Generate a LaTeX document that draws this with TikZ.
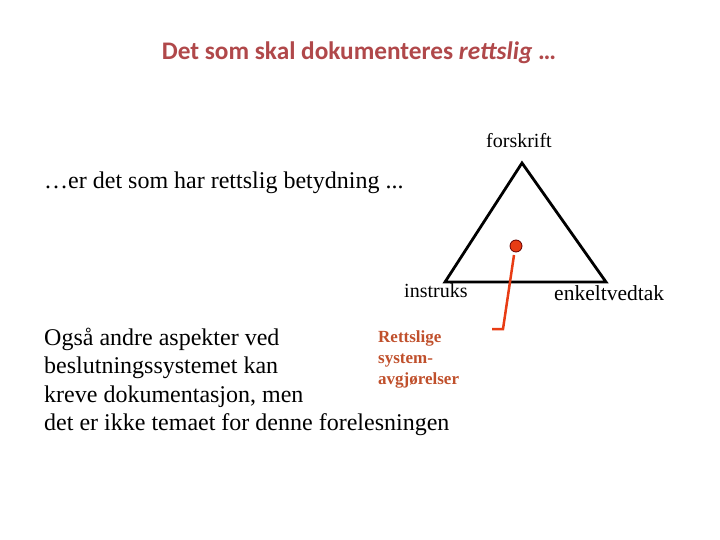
\documentclass[tikz,border=0pt]{standalone}
\usepackage{fontspec}
\setmainfont{Liberation Serif}
\newfontfamily\titlefont{Carlito}
\definecolor{titlered}{RGB}{176,72,74}
\definecolor{labelred}{RGB}{192,80,44}
\definecolor{dotred}{RGB}{232,60,20}
\begin{document}
\begin{tikzpicture}[x=1bp,y=-1bp,
  big/.style={font=\fontsize{24bp}{28bp}\selectfont, inner sep=0pt, anchor=base west},
  corner/.style={font=\fontsize{20bp}{24bp}\selectfont, inner sep=0pt},
  redlab/.style={font=\fontsize{17bp}{20bp}\selectfont\bfseries, text=labelred, inner sep=0pt, anchor=base west}]
\useasboundingbox (0,0) rectangle (720,540);
% title
\node[inner sep=0pt, anchor=base, text=titlered, font=\titlefont\fontsize{25.3bp}{30bp}\selectfont\bfseries] (title) at (359,60) {Det som skal dokumenteres \textit{rettslig} \ldots};
% triangle
\coordinate (top) at (522,163);
\coordinate (bl) at (445,282);
\coordinate (br) at (606,282);
\draw[line width=2.8bp, line join=miter] (top) -- (bl) -- (br) -- cycle;
\node[corner, anchor=base] (forskrift) at (519,148) {forskrift};
\node[corner, anchor=base west] (instruks) at (404,297) {instruks};
\node[corner, anchor=base west, font=\fontsize{21.5bp}{24bp}\selectfont] (enkelt) at (554,300) {enkeltvedtak};
% red dot and line
\node[circle, fill=dotred, draw=black!60!red, line width=0.8bp, minimum size=12bp, inner sep=0pt] (dot) at (516,246) {};
\coordinate (hook) at (503,329);
\coordinate (hookend) at (492,329);
\draw[dotred, line width=2.5bp] (514,255) -- (hook) -- (hookend);
% texts
\node[big] (l0) at (44,189) {\ldots er det som har rettslig betydning ...};
\node[big] (l1) at (44,345) {Også andre aspekter ved};
\node[big] (l2) at (44,373) {beslutningssystemet kan};
\node[big] (l3) at (44,402) {kreve dokumentasjon, men};
\node[big] (l4) at (44,430) {det er ikke temaet for denne forelesningen};
\node[redlab] (r1) at (378,342) {Rettslige};
\node[redlab] (r2) at (378,363) {system-};
\node[redlab] (r3) at (378,384) {avgjørelser};
\end{tikzpicture}
\end{document}
